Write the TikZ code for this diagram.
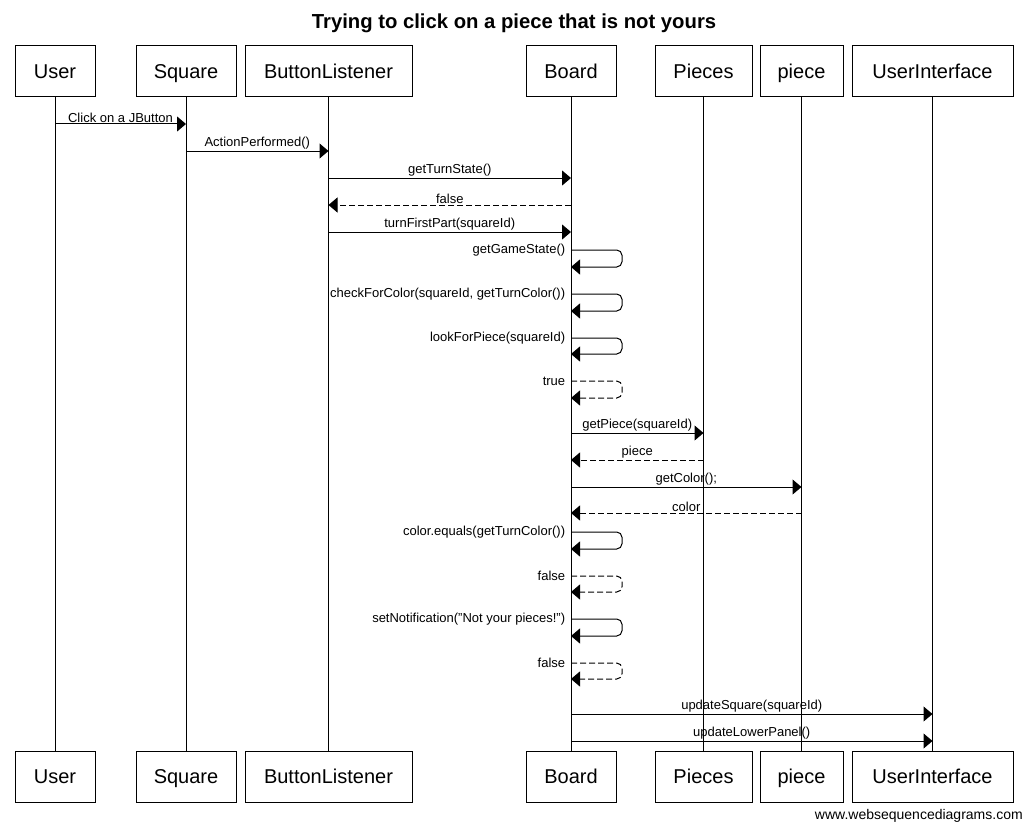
\documentclass[tikz,border=0pt]{standalone}
\usepackage{fontspec}
\setmainfont{Liberation Sans}
\usetikzlibrary{positioning,arrows.meta}
\newcommand{\call}[5][msg]{\draw[#1] (#2 |- 0,#4) -- node[lbl]{#5} (#3 |- 0,#4);}
\newcommand{\selfcall}[5][msg]{\draw[#1,rounded corners=4pt] (#2 |- 0,#3) node[slbl]{#5} -- ++(51,0) -- ++(0,#4-#3) -- (#2 |- 0,#4);}
\tikzset{
  actor/.style={draw,line width=0.75pt,minimum height=38.25pt,inner sep=0pt,
    text height=10.7pt,text depth=0pt,font=\fontsize{15}{18}\selectfont},
  life/.style={line width=0.75pt},
  msg/.style={line width=0.75pt,-{Triangle[length=6.75pt,width=11.25pt]}},
  ret/.style={msg,dash pattern=on 4.5pt off 2.25pt},
  lbl/.style={above,inner sep=1pt,font=\fontsize{9.75}{11}\selectfont},
  slbl/.style={left,inner sep=0pt,xshift=-4pt,font=\fontsize{9.75}{11}\selectfont}
}
\begin{document}
\begin{tikzpicture}[x=0.75pt,y=-0.75pt]
  \useasboundingbox (0,0) rectangle (1025,824);
  \node[font=\bfseries\fontsize{15.2}{18}\selectfont] (title) at (514,23) {Trying to click on a piece that is not yours};

  % participants, top row
  \node[actor,minimum width=60pt] (uUser) at (55,71.5) {User};
  \node[actor,minimum width=75pt,right=30pt of uUser] (uSquare) {Square};
  \node[actor,minimum width=125.25pt,right=6pt of uSquare] (uButtonListener) {ButtonListener};
  \node[actor,minimum width=67.5pt,right=84.75pt of uButtonListener] (uBoard) {Board};
  \node[actor,minimum width=72.75pt,right=28.5pt of uBoard] (uPieces) {Pieces};
  \node[actor,minimum width=62.25pt,right=5.25pt of uPieces] (upiece) {piece};
  \node[actor,minimum width=120.75pt,right=6pt of upiece] (uUserInterface) {UserInterface};

  % bottom row and lifelines
  \foreach \n/\w in {User/60,Square/75,ButtonListener/125.25,Board/67.5,Pieces/72.75,piece/62.25,UserInterface/120.75}{
    \node[actor,minimum width=\w pt,below=489.75pt of u\n] (d\n) {\n};
    \draw[life] (u\n) -- (d\n);
  }

  % messages
  \call{uUser}{uSquare}{124}{Click on a JButton}
  \call{uSquare}{uButtonListener}{151}{ActionPerformed()}
  \call{uButtonListener}{uBoard}{178}{getTurnState()}
  \call[ret]{uBoard}{uButtonListener}{205}{false}
  \call{uButtonListener}{uBoard}{232}{turnFirstPart(squareId)}
  \selfcall{uBoard}{250}{267}{getGameState()}
  \selfcall{uBoard}{294}{311}{checkForColor(squareId, getTurnColor())}
  \selfcall{uBoard}{338}{354}{lookForPiece(squareId)}
  \selfcall[ret]{uBoard}{381}{398}{true}
  \call{uBoard}{uPieces}{433}{getPiece(squareId)}
  \call[ret]{uPieces}{uBoard}{460}{piece}
  \call{uBoard}{upiece}{487}{getColor();}
  \call[ret]{upiece}{uBoard}{513}{color}
  \selfcall{uBoard}{532}{549}{color.equals(getTurnColor())}
  \selfcall[ret]{uBoard}{576}{592}{false}
  \selfcall{uBoard}{619}{636}{setNotification("Not your pieces!")}
  \selfcall[ret]{uBoard}{663}{679}{false}
  \call{uBoard}{uUserInterface}{714}{updateSquare(squareId)}
  \call{uBoard}{uUserInterface}{741}{updateLowerPanel()}

  \node[anchor=east,inner sep=0pt,font=\fontsize{10.5}{12}\selectfont] (site) at (1023,816) {www.websequencediagrams.com};
\end{tikzpicture}
\end{document}
